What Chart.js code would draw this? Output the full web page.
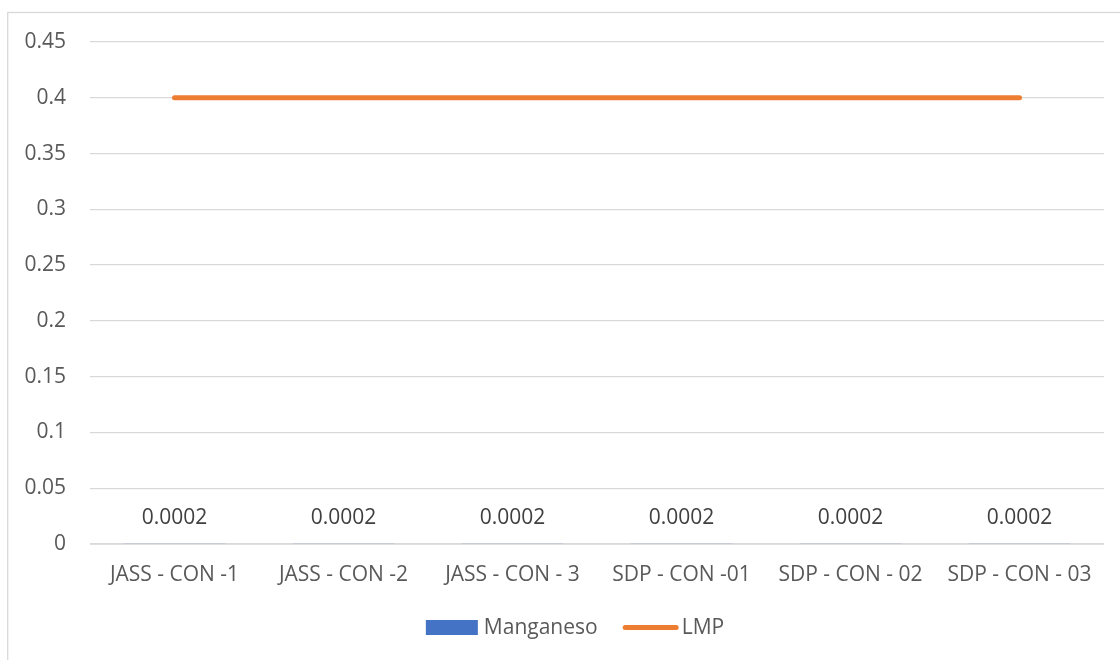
<!DOCTYPE html>
<html>
<head>
<meta charset="utf-8">
<title>Manganeso vs LMP</title>
<script src="https://cdn.jsdelivr.net/npm/chart.js@4.4.1/dist/chart.umd.min.js"></script>
<style>
  html, body { margin: 0; padding: 0; background: #ffffff; }
  #wrap { position: relative; width: 1120px; height: 660px; }
  canvas { display: block; }
</style>
</head>
<body>
<div id="wrap"><canvas id="chart" width="1120" height="660"></canvas></div>
<script>
// Sampling points
const categories = ['JASS - CON -1', 'JASS - CON -2', 'JASS - CON - 3', 'SDP - CON -01', 'SDP - CON - 02', 'SDP - CON - 03'];
// Measured manganese concentration (mg/L)
const manganeso = [0.0002, 0.0002, 0.0002, 0.0002, 0.0002, 0.0002];
// Maximum permissible limit (mg/L)
const lmp = [0.4, 0.4, 0.4, 0.4, 0.4, 0.4];
// Value axis range
const yMin = 0;
const yMax = 0.45;
const yStep = 0.05;

const FONT = '"Open Sans", "DejaVu Sans", sans-serif';
const TEXT = '#595959';
const BLUE = '#4472C4';
const ORANGE = '#ED7D31';
const GRID = '#d9d9d9';

// Outer frame of the chart object
const framePlugin = {
  id: 'frame',
  beforeDraw(chart) {
    const ctx = chart.ctx;
    ctx.save();
    ctx.strokeStyle = GRID;
    ctx.lineWidth = 1.3;
    ctx.strokeRect(7.7, 12.5, 1200, 800);
    ctx.restore();
  }
};

// Baseline stroke re-laid over the (very short) bars so the axis stays clean
const baselinePlugin = {
  id: 'baseline',
  afterDatasetDraw(chart, args) {
    if (args.index !== 0) return;
    const ctx = chart.ctx;
    const y = chart.scales.y.getPixelForValue(0);
    ctx.save();
    ctx.strokeStyle = GRID;
    ctx.lineWidth = 1.3;
    ctx.beginPath();
    ctx.moveTo(chart.chartArea.left, y);
    ctx.lineTo(chart.chartArea.right, y);
    ctx.stroke();
    ctx.restore();
  }
};

// Value labels above the bars
const barLabelPlugin = {
  id: 'barLabels',
  afterDatasetsDraw(chart) {
    const ctx = chart.ctx;
    const meta = chart.getDatasetMeta(0);
    ctx.save();
    ctx.font = '21px ' + FONT;
    ctx.fillStyle = '#404040';
    ctx.textAlign = 'center';
    ctx.textBaseline = 'middle';
    meta.data.forEach((bar, i) => {
      ctx.fillText(String(manganeso[i]), bar.x, bar.y - 26);
    });
    ctx.restore();
  }
};

// Legend below the axis
const legendPlugin = {
  id: 'bottomLegend',
  afterDraw(chart) {
    const ctx = chart.ctx;
    const ds = chart.data.datasets;
    ctx.save();
    ctx.font = '21px ' + FONT;
    ctx.textBaseline = 'middle';
    ctx.textAlign = 'left';
    const cy = 627.5;
    const swatch = 52, lineSw = 56, gapText = 6, gapItem = 25;
    const w0 = ctx.measureText(ds[0].label).width;
    const w1 = ctx.measureText(ds[1].label).width;
    const total = swatch + gapText + w0 + gapItem + lineSw + 3 + w1;
    let x = 575 - total / 2;
    ctx.fillStyle = ds[0].backgroundColor;
    ctx.fillRect(x, cy - 7.5, swatch, 15);
    x += swatch + gapText;
    ctx.fillStyle = TEXT;
    ctx.fillText(ds[0].label, x, cy + 1);
    x += w0 + gapItem;
    ctx.strokeStyle = ds[1].borderColor;
    ctx.lineWidth = 5;
    ctx.lineCap = 'round';
    ctx.beginPath();
    ctx.moveTo(x + 2.5, cy);
    ctx.lineTo(x + lineSw - 2.5, cy);
    ctx.stroke();
    x += lineSw + 3;
    ctx.fillStyle = TEXT;
    ctx.fillText(ds[1].label, x, cy + 1);
    ctx.restore();
  }
};

new Chart(document.getElementById('chart'), {
  type: 'bar',
  data: {
    labels: categories,
    datasets: [
      {
        label: 'Manganeso',
        data: manganeso,
        backgroundColor: BLUE,
        borderWidth: 0,
        inflateAmount: 0,
        barPercentage: 0.6,
        categoryPercentage: 1,
        order: 2
      },
      {
        type: 'line',
        label: 'LMP',
        data: lmp,
        borderColor: ORANGE,
        backgroundColor: ORANGE,
        borderWidth: 5,
        borderCapStyle: 'round',
        pointRadius: 0,
        fill: false,
        tension: 0,
        order: 1
      }
    ]
  },
  options: {
    responsive: false,
    animation: false,
    events: [],
    layout: { padding: { left: 0, top: 42, right: 16, bottom: 66 } },
    plugins: {
      legend: { display: false },
      tooltip: { enabled: false }
    },
    scales: {
      x: {
        grid: { display: false, drawTicks: false },
        border: { display: false },
        ticks: {
          color: TEXT,
          font: { family: FONT, size: 21 },
          padding: 18,
          maxRotation: 0,
          autoSkip: false
        },
        afterFit(scale) { scale.height = 50; }
      },
      y: {
        min: yMin,
        max: yMax,
        grid: { color: GRID, lineWidth: 1.3, drawTicks: false },
        border: { display: false },
        ticks: {
          stepSize: yStep,
          color: TEXT,
          font: { family: FONT, size: 21 },
          padding: 24,
          callback: (v) => String(Math.round(v * 100) / 100)
        },
        afterFit(scale) { scale.width = 90; }
      }
    }
  },
  plugins: [framePlugin, baselinePlugin, barLabelPlugin, legendPlugin]
});
</script>
</body>
</html>
